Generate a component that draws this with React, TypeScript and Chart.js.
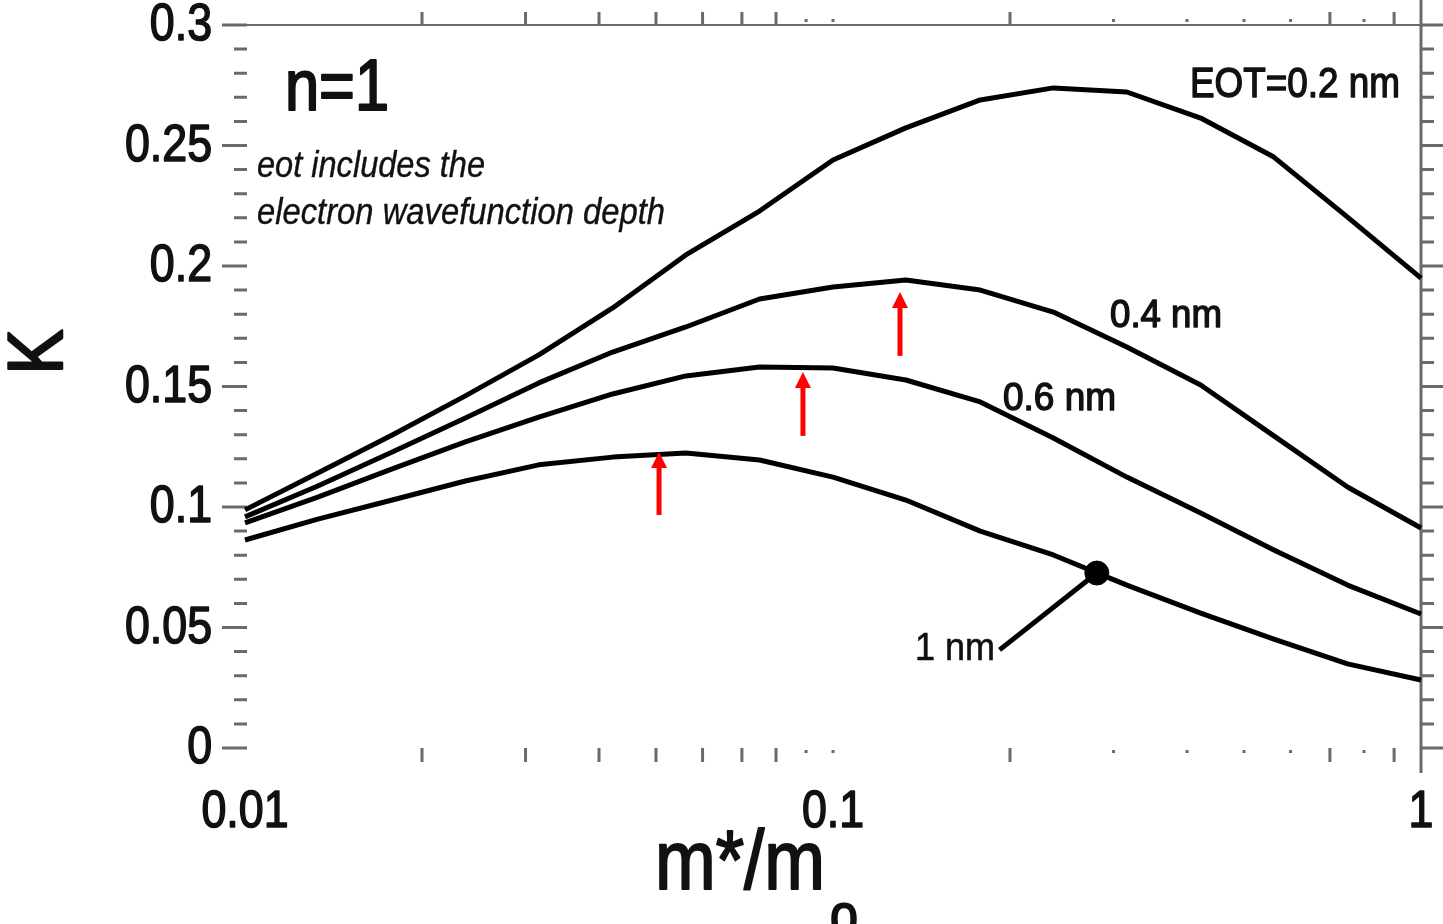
import React, { useEffect, useRef } from "react";
import { Chart, registerables } from "chart.js";

Chart.register(...registerables);

// ---- data ----
const massRatio = [0.01, 0.0133, 0.0178, 0.0237, 0.0316, 0.0422, 0.0562, 0.075, 0.1, 0.133, 0.178, 0.237, 0.316, 0.422, 0.562, 0.75, 1];
const kEot02 = [0.0988, 0.1141, 0.1299, 0.1461, 0.1631, 0.1826, 0.2046, 0.2228, 0.244, 0.2573, 0.2689, 0.2739, 0.2722, 0.2614, 0.2452, 0.2203, 0.195];
const kEot04 = [0.0959, 0.1087, 0.1228, 0.1369, 0.1515, 0.1643, 0.1747, 0.1863, 0.1913, 0.1942, 0.19, 0.1809, 0.1664, 0.1506, 0.1295, 0.1083, 0.0913];
const kEot06 = [0.0934, 0.1041, 0.1158, 0.127, 0.1373, 0.1469, 0.1544, 0.1581, 0.1577, 0.1527, 0.1436, 0.1286, 0.1124, 0.0975, 0.0822, 0.0676, 0.0556];
const kEot10 = [0.0863, 0.095, 0.1029, 0.1108, 0.1175, 0.1207, 0.1224, 0.1195, 0.1124, 0.1029, 0.09, 0.0801, 0.0676, 0.056, 0.0452, 0.0349, 0.0282];

const yTickValues = [0, 0.05, 0.1, 0.15, 0.2, 0.25, 0.3];
const yTickLabels = ["0", "0.05", "0.1", "0.15", "0.2", "0.25", "0.3"];
const yMinorValues = [0.01, 0.02, 0.03, 0.04, 0.06, 0.07, 0.08, 0.09, 0.11, 0.12, 0.13, 0.14, 0.16, 0.17, 0.18, 0.19, 0.21, 0.22, 0.23, 0.24, 0.26, 0.27, 0.28, 0.29];
const xTickValues = [0.01, 0.1, 1];
const xTickLabels = ["0.01", "0.1", "1"];
const xMinorValues = [0.02, 0.03, 0.04, 0.05, 0.06, 0.07, 0.08, 0.2, 0.7, 0.9];
const xFaintValues = [0.09, 0.1, 0.3, 0.4, 0.5, 0.6, 0.8];

// red arrows marking the maxima
const arrowX = [0.0506, 0.0889, 0.13];
const arrowBaseK = [0.0967, 0.1295, 0.1627];
const arrowTipK = [0.1228, 0.156, 0.1892];

// marker on the 1 nm curve and its leader to the label
const markerX = [0.281];
const markerK = [0.0726];
const leaderX = [0.281, 0.192];
const leaderK = [0.0726, 0.0407];

const FONT = "'Liberation Sans', Arial, sans-serif";
const AXIS_GRAY = "#6a6a6a";

function drawText(
  ctx: CanvasRenderingContext2D,
  text: string,
  x: number,
  y: number,
  font: string,
  width: number,
  align: CanvasTextAlign,
  baseline: CanvasTextBaseline,
  stroke = 1.2
) {
  ctx.save();
  ctx.font = font;
  const w = ctx.measureText(text).width;
  ctx.translate(x, y);
  ctx.scale(width / w, 1);
  ctx.textAlign = align;
  ctx.textBaseline = baseline;
  ctx.fillStyle = "#111";
  ctx.strokeStyle = "#111";
  ctx.lineWidth = stroke;
  ctx.lineJoin = "round";
  ctx.fillText(text, 0, 0);
  if (stroke > 0) ctx.strokeText(text, 0, 0);
  ctx.restore();
}

function drawScaled(
  ctx: CanvasRenderingContext2D,
  text: string,
  x: number,
  y: number,
  font: string,
  sx: number,
  align: CanvasTextAlign,
  baseline: CanvasTextBaseline
) {
  ctx.save();
  ctx.font = font;
  ctx.translate(x, y);
  ctx.scale(sx, 1);
  ctx.textAlign = align;
  ctx.textBaseline = baseline;
  ctx.fillStyle = "#111";
  ctx.strokeStyle = "#111";
  ctx.lineWidth = 1.6;
  ctx.lineJoin = "round";
  ctx.fillText(text, 0, 0);
  ctx.strokeText(text, 0, 0);
  ctx.restore();
}

const axesPlugin = {
  id: "customAxes",
  beforeDatasetsDraw(chart: any) {
    const ctx: CanvasRenderingContext2D = chart.ctx;
    const xs = chart.scales.x;
    const ys = chart.scales.y;
    const { left, right, top, bottom } = chart.chartArea;
    ctx.save();
    ctx.strokeStyle = AXIS_GRAY;
    ctx.fillStyle = AXIS_GRAY;
    // top axis line
    ctx.lineWidth = 2;
    ctx.beginPath();
    ctx.moveTo(left - 23, top);
    ctx.lineTo(1443, top);
    ctx.stroke();
    // right axis line
    ctx.lineWidth = 3;
    ctx.beginPath();
    ctx.moveTo(right, 0);
    ctx.lineTo(right, bottom + 25);
    ctx.stroke();
    // left & right major ticks
    ctx.lineWidth = 3;
    yTickValues.forEach((v) => {
      const py = ys.getPixelForValue(v);
      ctx.beginPath();
      ctx.moveTo(left - 23, py);
      ctx.lineTo(left + 2, py);
      ctx.moveTo(right, py);
      ctx.lineTo(right + 22, py);
      ctx.stroke();
    });
    yMinorValues.forEach((v) => {
      const py = ys.getPixelForValue(v);
      ctx.beginPath();
      ctx.moveTo(left - 11, py);
      ctx.lineTo(left + 2, py);
      ctx.moveTo(right, py);
      ctx.lineTo(right + 13, py);
      ctx.stroke();
    });
    // top & bottom log minor ticks
    xMinorValues.forEach((v) => {
      const px = xs.getPixelForValue(v);
      ctx.beginPath();
      ctx.moveTo(px, top);
      ctx.lineTo(px, top - 13);
      ctx.moveTo(px, bottom);
      ctx.lineTo(px, bottom + 14);
      ctx.stroke();
    });
    xFaintValues.forEach((v) => {
      const px = xs.getPixelForValue(v);
      ctx.fillRect(px - 1.5, top - 6, 3, 3);
      ctx.fillRect(px - 1.5, bottom + 2, 3, 3);
    });
    ctx.restore();
  },
  afterDraw(chart: any) {
    const ctx: CanvasRenderingContext2D = chart.ctx;
    const xs = chart.scales.x;
    const ys = chart.scales.y;
    const { left } = chart.chartArea;

    // tick labels
    yTickValues.forEach((v, i) => {
      drawScaled(ctx, yTickLabels[i], left - 33, ys.getPixelForValue(v) + 1, `52px ${FONT}`, 0.86, "right", "middle");
    });
    xTickValues.forEach((v, i) => {
      drawScaled(ctx, xTickLabels[i], xs.getPixelForValue(v), 813, `52px ${FONT}`, 0.86, "center", "middle");
    });

    // axis titles
    drawText(ctx, "m*/m", 655, 889, `83px ${FONT}`, 170, "left", "alphabetic", 2);
    drawText(ctx, "o", 830, 934, `57px ${FONT}`, 28, "left", "alphabetic", 2);
    ctx.save();
    ctx.translate(62, 352);
    ctx.rotate(-Math.PI / 2);
    drawText(ctx, "K", 0, 0, `77px ${FONT}`, 45, "center", "alphabetic", 2.5);
    ctx.restore();

    // annotations
    drawText(ctx, "n=1", 285, 110, `72px ${FONT}`, 104, "left", "alphabetic", 2.2);
    drawText(ctx, "eot includes the", 257, 177, `italic 37px ${FONT}`, 228, "left", "alphabetic", 0.4);
    drawText(ctx, "electron wavefunction depth", 257, 224, `italic 37px ${FONT}`, 408, "left", "alphabetic", 0.4);
    drawText(ctx, "EOT=0.2 nm", 1190, 97, `42px ${FONT}`, 210, "left", "alphabetic", 1.4);
    drawText(ctx, "0.4 nm", 1110, 327, `38px ${FONT}`, 112, "left", "alphabetic", 1.4);
    drawText(ctx, "0.6 nm", 1003, 410, `38px ${FONT}`, 113, "left", "alphabetic", 1.4);
    drawText(ctx, "1 nm", 915, 660, `38px ${FONT}`, 80, "left", "alphabetic", 0.6);

    // red arrows
    ctx.save();
    ctx.strokeStyle = "#ff0000";
    ctx.fillStyle = "#ff0000";
    ctx.lineWidth = 5;
    arrowX.forEach((v, i) => {
      const px = xs.getPixelForValue(v);
      const pb = ys.getPixelForValue(arrowBaseK[i]);
      const pt = ys.getPixelForValue(arrowTipK[i]);
      ctx.beginPath();
      ctx.moveTo(px, pb);
      ctx.lineTo(px, pt + 12);
      ctx.stroke();
      ctx.beginPath();
      ctx.moveTo(px, pt);
      ctx.lineTo(px - 8, pt + 16);
      ctx.lineTo(px + 8, pt + 16);
      ctx.closePath();
      ctx.fill();
    });
    ctx.restore();
  },
};

const curveStyle = {
  borderColor: "#000",
  borderWidth: 5,
  pointRadius: 0,
  tension: 0,
  fill: false,
  borderJoinStyle: "round" as const,
  clip: false as any,
};

export default function App() {
  const ref = useRef<HTMLCanvasElement | null>(null);
  useEffect(() => {
    if (!ref.current) return;
    const toPts = (ks: number[]) => massRatio.map((m, i) => ({ x: m, y: ks[i] }));
    const chart = new Chart(ref.current, {
      type: "line",
      data: {
        datasets: [
          { label: "EOT=0.2 nm", data: toPts(kEot02), ...curveStyle },
          { label: "0.4 nm", data: toPts(kEot04), ...curveStyle },
          { label: "0.6 nm", data: toPts(kEot06), ...curveStyle },
          { label: "1 nm", data: toPts(kEot10), ...curveStyle },
          {
            label: "leader",
            data: leaderX.map((m, i) => ({ x: m, y: leaderK[i] })),
            ...curveStyle,
          },
          {
            label: "marker",
            data: markerX.map((m, i) => ({ x: m, y: markerK[i] })),
            showLine: false,
            pointRadius: 12,
            pointBackgroundColor: "#000",
            pointBorderColor: "#000",
            borderColor: "#000",
            clip: false as any,
          },
        ],
      },
      options: {
        responsive: false,
        animation: false,
        layout: { padding: { left: 245, right: 22, top: 25, bottom: 176 } },
        plugins: { legend: { display: false }, tooltip: { enabled: false } },
        scales: {
          x: { type: "logarithmic", min: 0.01, max: 1, display: false },
          y: { type: "linear", min: 0, max: 0.3, display: false },
        },
      },
      plugins: [axesPlugin],
    });
    return () => chart.destroy();
  }, []);
  return (
    <div style={{ position: "fixed", left: 0, top: 0, width: 1443, height: 924, background: "#fff" }}>
      <canvas ref={ref} width={1443} height={924} style={{ display: "block" }} />
    </div>
  );
}
